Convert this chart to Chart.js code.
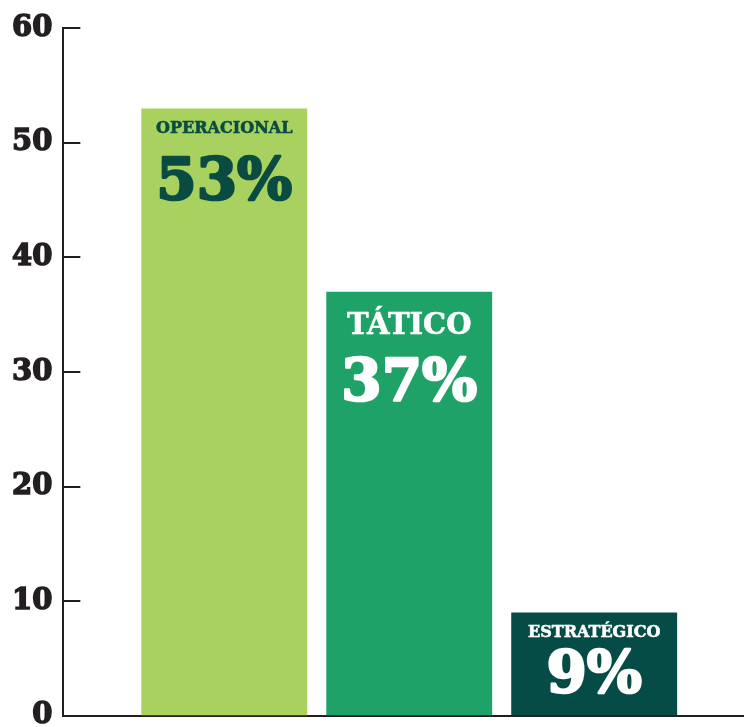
<!DOCTYPE html>
<html>
<head>
<meta charset="utf-8">
<script src="https://cdn.jsdelivr.net/npm/chart.js@4/dist/chart.umd.min.js"></script>
<style>
  html, body { margin: 0; padding: 0; background: #ffffff; overflow: hidden; }
  #wrap { width: 744px; height: 727px; overflow: hidden; }
  #box { position: relative; width: 744px; height: 744px; }
</style>
</head>
<body>
<div id="wrap"><div id="box"><canvas id="c"></canvas></div></div>
<script>
// Share of decisions by management level (%)
const categories = ['OPERACIONAL', 'TÁTICO', 'ESTRATÉGICO'];
const values = [53, 37, 9];
const yTicks = [0, 10, 20, 30, 40, 50, 60];

const barColors = ['#a9d15f', '#1fa267', '#054c46'];
const textColors = ['#0a4b42', '#ffffff', '#ffffff'];
// per-bar label sizing: name font, value font, and offsets from the bar top
const labelStyle = [
  { nameSize: 16, pctSize: 58, nameDy: 20, pctDy: 75 },
  { nameSize: 29, pctSize: 58, nameDy: 35, pctDy: 93 },
  { nameSize: 16, pctSize: 58, nameDy: 20, pctDy: 64 }
];
const FONT = '"DejaVu Serif", serif';
const INK = '#231f20';

// labels drawn inside each bar, near its top
const barLabels = {
  id: 'barLabels',
  afterDatasetsDraw(chart) {
    const ctx = chart.ctx;
    const meta = chart.getDatasetMeta(0);
    meta.data.forEach((bar, i) => {
      const s = labelStyle[i];
      ctx.save();
      ctx.fillStyle = textColors[i];
      ctx.strokeStyle = textColors[i];
      ctx.lineJoin = 'round';
      ctx.textAlign = 'center';
      ctx.textBaseline = 'middle';
      ctx.font = 'bold ' + s.nameSize + 'px ' + FONT;
      ctx.lineWidth = 0.6;
      ctx.fillText(categories[i], bar.x, bar.y + s.nameDy);
      ctx.strokeText(categories[i], bar.x, bar.y + s.nameDy);
      ctx.font = 'bold ' + s.pctSize + 'px ' + FONT;
      ctx.lineWidth = 2.5;
      ctx.fillText(values[i] + '%', bar.x, bar.y + s.pctDy);
      ctx.strokeText(values[i] + '%', bar.x, bar.y + s.pctDy);
      ctx.restore();
    });
  }
};

// short tick marks pointing into the plot from the y axis
const innerTicks = {
  id: 'innerTicks',
  afterDraw(chart) {
    const y = chart.scales.y;
    const left = chart.chartArea.left;
    const ctx = chart.ctx;
    ctx.save();
    ctx.strokeStyle = INK;
    ctx.lineWidth = 2;
    y.ticks.forEach(t => {
      if (t.value === 0) return;
      const py = Math.round(y.getPixelForValue(t.value));
      ctx.beginPath();
      ctx.moveTo(left, py);
      ctx.lineTo(left + 17, py);
      ctx.stroke();
    });
    ctx.restore();
  }
};

new Chart(document.getElementById('c'), {
  type: 'bar',
  data: {
    labels: categories,
    datasets: [{
      data: values.map((v, i) => ({ x: i, y: v })),
      backgroundColor: barColors,
      borderWidth: 0,
      barPercentage: 1.0,
      categoryPercentage: 0.897
    }]
  },
  options: {
    responsive: true,
    maintainAspectRatio: false,
    animation: false,
    layout: { padding: { left: 1, top: 0, right: 0, bottom: 0 } },
    plugins: { legend: { display: false }, tooltip: { enabled: false } },
    scales: {
      x: {
        type: 'linear',
        offset: false,
        min: -0.87,
        max: 2.81,
        afterBuildTicks(scale) { scale.ticks = categories.map((c, i) => ({ value: i })); },
        ticks: { display: false },
        grid: { display: false, drawTicks: false },
        border: { display: true, color: INK, width: 2 }
      },
      y: {
        min: 0,
        max: 60,
        afterBuildTicks(scale) { scale.ticks = yTicks.map(v => ({ value: v })); },
        ticks: {
          padding: 11,
          color: INK,
          textStrokeColor: INK,
          textStrokeWidth: 1.5,
          font: { family: FONT, size: 29, weight: 'bold' }
        },
        grid: { display: false, drawTicks: false },
        border: { display: true, color: INK, width: 2 }
      }
    }
  },
  plugins: [barLabels, innerTicks]
});
</script>
</body>
</html>
